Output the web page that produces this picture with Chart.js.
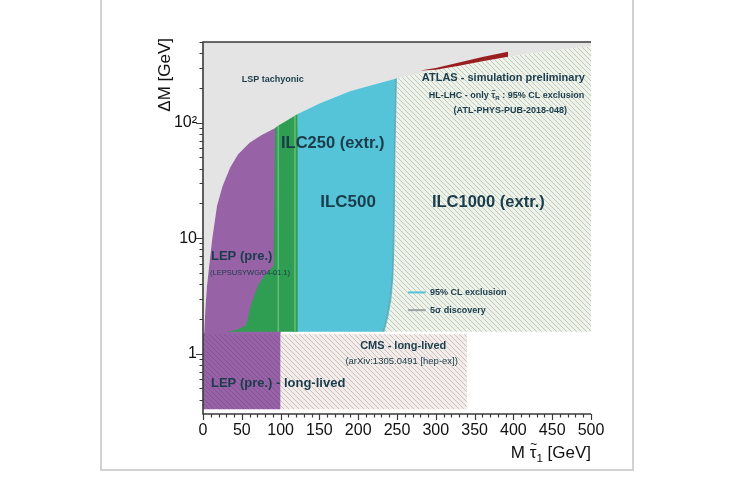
<!DOCTYPE html>
<html>
<head>
<meta charset="utf-8">
<title>Stau exclusion reach</title>
<script src="https://cdn.jsdelivr.net/npm/chart.js@4.4.1/dist/chart.umd.min.js"></script>
<style>
  html, body { margin: 0; padding: 0; background: #ffffff; }
  #c { display: block; }
</style>
</head>
<body>
<canvas id="c" width="734" height="490"></canvas>
<script>
// ---- axis ranges and tick labels ----
const massMin = 0, massMax = 500;          // M(stau) [GeV]
const gapMin = 0.33, gapMax = 500;         // Delta M [GeV], log axis
const massTicks = [0, 50, 100, 150, 200, 250, 300, 350, 400, 450, 500];
const gapTicks = [1, 10, 100];
const gapTickLabels = ['1', '10', '10\u00B2'];

// ---- upper kinematic edge (LSP massless); above it the LSP is tachyonic ----
const edgeMass = [0, 1.5, 3, 5, 8, 12, 18, 25, 35, 45, 60, 75, 93, 100, 122, 150, 190, 250, 300, 350, 393, 450, 500];
const edgeGap  = [1.5, 1.5, 2.4, 3.8, 5.8, 10, 19, 28, 41, 53, 67, 78, 90, 97, 119, 147, 188, 243, 287, 330, 372, 420, 462];

// ---- LEP (prelim.) reach ----
const lepReach = 100;

// ---- ILC250 (extrapolated): lower-left contour, then straight up to the edge ----
const ilc250LeftMass = [30, 45, 55, 58, 60, 63, 67, 72, 78, 85, 91, 92, 93];
const ilc250LeftGap  = [1.55, 1.62, 1.75, 2.0, 2.4, 2.8, 3.3, 4.0, 4.6, 5.2, 5.8, 20, 90];
const ilc250Reach = 122;
const ilcGapFloor = 1.55;

// ---- ILC500: right-hand contour ----
const ilc500EdgeMass = [234, 239, 243, 245.5, 247, 248, 250];
const ilc500EdgeGap  = [1.55, 2.1, 3.0, 4.6, 10, 50, 243];
// ILC500 5-sigma discovery contour
const ilc500DiscMass = [232, 237, 241, 243.8, 245.3, 246.4, 248.5];
const ilc500DiscGap  = [1.55, 2.1, 3.0, 4.6, 10, 50, 241];

// ---- ILC1000 (extrapolated) reach ----
const ilc1000Reach = 500;

// ---- CMS long-lived search ----
const cmsReach = 340;
const longLivedCeiling = 1.47;

// ---- ATLAS HL-LHC (stau_R only) 95% CL exclusion sliver ----
const atlasMass = [280, 300, 330, 360, 393, 393, 360, 330, 300];
const atlasGap  = [283, 298, 333, 370, 412, 372, 340, 312, 287];

// ---- colours ----
const cTachyonic = '#e3e4e3';
const cLep = '#9762a6';
const cIlc250 = '#2f9d52';
const cIlc500 = '#56c4d8';
const cAtlas = '#9a1d1f';
const cText = '#1a3c4b';

const canvas = document.getElementById('c');
const ctx = canvas.getContext('2d');

function hatch(bg, ink, step) {
  const t = document.createElement('canvas');
  t.width = step; t.height = step;
  const g = t.getContext('2d');
  if (bg) { g.fillStyle = bg; g.fillRect(0, 0, step, step); }
  g.strokeStyle = ink; g.lineWidth = 1;
  g.beginPath();
  for (const o of [-step, 0, step]) { g.moveTo(o, 0); g.lineTo(o + step, step); }
  g.stroke();
  return ctx.createPattern(t, 'repeat');
}

const pts = (xs, ys) => xs.map((x, i) => ({ x, y: ys[i] }));

function area(label, xs, ys, fillStyle, order) {
  return { label, data: pts(xs, ys), backgroundColor: fillStyle, borderColor: 'rgba(0,0,0,0)',
           borderWidth: 0, fill: 'shape', pointRadius: 0, tension: 0, order };
}
function curve(label, xs, ys, color, width, order) {
  return { label, data: pts(xs, ys), borderColor: color, borderWidth: width, backgroundColor: color,
           fill: false, pointRadius: 0, tension: 0, order };
}

// edge helper: edge points inside a mass window
function edgeBetween(lo, hi) {
  const xs = [], ys = [];
  edgeMass.forEach((m, i) => { if (m > lo && m < hi) { xs.push(m); ys.push(edgeGap[i]); } });
  return { xs, ys };
}

// tachyonic region: everything above the edge
const tachX = [0, ...edgeMass, massMax];
const tachY = [gapMax, ...edgeGap, gapMax];

// LEP: below the edge up to its reach
const lepEdge = edgeBetween(-1, lepReach + 0.01);
const lepX = [0, lepReach, ...lepEdge.xs.slice().reverse()];
const lepY = [gapMin, gapMin, ...lepEdge.ys.slice().reverse()];

// ILC250
const e250 = edgeBetween(ilc250LeftMass[ilc250LeftMass.length - 1], ilc250Reach + 0.01);
const ilc250X = [...ilc250LeftMass, ...e250.xs, ilc250Reach];
const ilc250Y = [...ilc250LeftGap, ...e250.ys, ilcGapFloor];

// ILC500
const e500 = edgeBetween(115, 250);
const ilc500X = [115, ...ilc500EdgeMass, ...e500.xs.slice().reverse()];
const ilc500Y = [ilcGapFloor, ...ilc500EdgeGap, ...e500.ys.slice().reverse()];

// ILC1000
const e1000 = edgeBetween(250, ilc1000Reach + 0.01);
const ilc1000X = [...ilc500EdgeMass, ...e1000.xs, ilc1000Reach];
const ilc1000Y = [...ilc500EdgeGap, ...e1000.ys, ilcGapFloor];

// ILC250 discovery contours (thin light lines inside the green band)
const ilc250DiscA = { xs: [97, 97], ys: [ilcGapFloor, 94] };
const ilc250DiscB = { xs: [118.5, 118.5], ys: [ilcGapFloor, 115] };

const datasets = [
  area('LSP tachyonic', tachX, tachY, cTachyonic, 20),
  area('LEP (pre.)', lepX, lepY, cLep, 19),
  area('LEP long-lived', [0, lepReach, lepReach, 0], [gapMin, gapMin, longLivedCeiling, longLivedCeiling],
       hatch(null, 'rgba(110,60,125,0.4)', 5), 18),
  area('CMS long-lived', [lepReach, cmsReach, cmsReach, lepReach], [gapMin, gapMin, longLivedCeiling, longLivedCeiling],
       hatch('#f2ecea', '#cdbfbc', 5), 17),
  area('ILC1000 (extr.)', ilc1000X, ilc1000Y, hatch('#eef2eb', '#bccab8', 5), 16),
  area('ILC500', ilc500X, ilc500Y, cIlc500, 15),
  curve('ILC500 5 sigma', ilc500DiscMass, ilc500DiscGap, 'rgba(130,150,150,0.8)', 1, 14),
  area('ILC250 (extr.)', ilc250X, ilc250Y, cIlc250, 13),
  curve('ILC250 5 sigma a', ilc250DiscA.xs, ilc250DiscA.ys, 'rgba(120,200,140,0.75)', 1.5, 12),
  curve('ILC250 5 sigma b', ilc250DiscB.xs, ilc250DiscB.ys, 'rgba(120,200,140,0.75)', 1.5, 11),
  area('ATLAS HL-LHC', atlasMass, atlasGap, cAtlas, 10)
];

// annotations placed in data coordinates (M, Delta M); "tilde" puts a ~ over that piece
const notes = [
  { parts: [{ t: 'LSP tachyonic' }], m: 50, g: 238, size: 9, bold: true },
  { parts: [{ t: 'ATLAS - simulation preliminary' }], m: 282, g: 245, size: 11, bold: true },
  { parts: [{ t: 'HL-LHC - only ' }, { t: '\u03C4', tilde: true }, { t: 'R', sub: true }, { t: ' : 95% CL exclusion' }], m: 291, g: 172, size: 9, bold: true },
  { parts: [{ t: '(ATL-PHYS-PUB-2018-048)' }], m: 396, g: 128, size: 9, bold: true, align: 'center' },
  { parts: [{ t: 'ILC250 (extr.)' }], m: 100.5, g: 66, size: 16.5, bold: true },
  { parts: [{ t: 'ILC500' }], m: 151, g: 20.5, size: 17, bold: true },
  { parts: [{ t: 'ILC1000 (extr.)' }], m: 295, g: 20.5, size: 16.5, bold: true },
  { parts: [{ t: 'LEP (pre.)' }], m: 10.3, g: 6.9, size: 13, bold: true },
  { parts: [{ t: '(LEPSUSYWG/04-01.1)' }], m: 9, g: 5.0, size: 7.5, bold: false },
  { parts: [{ t: '95% CL exclusion' }], m: 292.5, g: 3.39, size: 9, bold: true },
  { parts: [{ t: '5\u03C3 discovery' }], m: 292.5, g: 2.38, size: 9, bold: true },
  { parts: [{ t: 'CMS - long-lived' }], m: 258, g: 1.17, size: 11, bold: true, align: 'center' },
  { parts: [{ t: '(arXiv:1305.0491 [hep-ex])' }], m: 256, g: 0.854, size: 9.5, bold: false, align: 'center' },
  { parts: [{ t: 'LEP (pre.) - long-lived' }], m: 10.3, g: 0.554, size: 13, bold: true }
];
// legend swatches
const legendItems = [
  { m0: 264, m1: 287, g: 3.39, color: cIlc500 },
  { m0: 264, m1: 287, g: 2.38, color: '#98a3a2' }
];

const FAMILY = '"Liberation Sans", "DejaVu Sans", Arial, sans-serif';
function font(size, bold) { return (bold ? 'bold ' : '') + size + 'px ' + FAMILY; }

function drawRich(c, parts, x, y, size, bold, align, color) {
  c.save();
  c.fillStyle = color;
  c.textBaseline = 'middle';
  c.textAlign = 'left';
  const sz = p => (p.sub ? size * 0.68 : size);
  const widths = parts.map(p => { c.font = font(sz(p), bold); return c.measureText(p.t).width; });
  const total = widths.reduce((a, b) => a + b, 0);
  let cx = align === 'center' ? x - total / 2 : align === 'right' ? x - total : x;
  parts.forEach((p, i) => {
    c.font = font(sz(p), bold);
    const py = p.sub ? y + size * 0.32 : y;
    c.fillText(p.t, cx, py);
    if (p.tilde) {
      c.save();
      c.textAlign = 'center';
      c.font = font(size * 0.7, bold);
      c.fillText('~', cx + widths[i] / 2 + size * 0.04, py - size * 0.47);
      c.restore();
    }
    cx += widths[i];
  });
  c.restore();
}

const decor = {
  id: 'decor',
  beforeDraw(chart) {
    const c = chart.ctx;
    c.save();
    c.fillStyle = '#ffffff';
    c.fillRect(0, 0, chart.width, chart.height);
    c.strokeStyle = '#d2d2d2';
    c.lineWidth = 2;
    c.strokeRect(101, -2, 532, 472);
    c.restore();
  },
  afterDatasetsDraw(chart) {
    const c = chart.ctx;
    const xs = chart.scales.x, ys = chart.scales.y;
    notes.forEach(n => {
      drawRich(c, n.parts, xs.getPixelForValue(n.m), ys.getPixelForValue(n.g), n.size, n.bold, n.align || 'left', cText);
    });
    c.save();
    c.lineWidth = 2;
    legendItems.forEach(l => {
      c.strokeStyle = l.color;
      const y = ys.getPixelForValue(l.g);
      c.beginPath();
      c.moveTo(xs.getPixelForValue(l.m0), y);
      c.lineTo(xs.getPixelForValue(l.m1), y);
      c.stroke();
    });
    c.restore();
  },
  afterDraw(chart) {
    const c = chart.ctx;
    const a = chart.chartArea;
    const xs = chart.scales.x, ys = chart.scales.y;
    c.save();
    // frame: left axis, bottom axis and top edge
    c.strokeStyle = '#3a3a3a';
    c.lineWidth = 1.6;
    c.beginPath();
    c.moveTo(a.right, a.top);
    c.lineTo(a.left, a.top);
    c.lineTo(a.left, a.bottom);
    c.lineTo(a.right, a.bottom);
    c.stroke();
    // x ticks: major every 50, minor every 10, hanging below the axis
    c.lineWidth = 1.2;
    c.beginPath();
    for (let v = massMin; v <= massMax; v += 10) {
      const px = Math.round(xs.getPixelForValue(v)) + 0.5;
      const len = v % 50 === 0 ? 6 : 3.5;
      c.moveTo(px, a.bottom);
      c.lineTo(px, a.bottom + len);
    }
    // y ticks: decades long, 2..9 short, sticking out to the left
    for (let d = 0.1; d <= 1000; d *= 10) {
      for (let k = 1; k <= 9; k++) {
        const v = d * k;
        if (v < gapMin || v > gapMax) continue;
        const py = Math.round(ys.getPixelForValue(v)) + 0.5;
        const len = k === 1 ? 7 : 3.5;
        c.moveTo(a.left, py);
        c.lineTo(a.left - len, py);
      }
    }
    c.stroke();
    // axis titles
    c.fillStyle = '#111';
    c.font = font(17, false);
    c.textBaseline = 'middle';
    c.save();
    c.translate(165, 38);
    c.rotate(-Math.PI / 2);
    c.textAlign = 'right';
    c.fillText('\u0394M [GeV]', 0, 0);
    c.restore();
    drawRich(c, [{ t: 'M ' }, { t: '\u03C4', tilde: true }, { t: '1', sub: true }, { t: ' [GeV]' }], a.right, 453, 17, false, 'right', '#111');
    c.restore();
  }
};

new Chart(ctx, {
  type: 'line',
  data: { datasets },
  options: {
    responsive: false,
    animation: false,
    devicePixelRatio: 1,
    layout: { padding: { left: 143, right: 143, top: 42, bottom: 36 } },
    plugins: { legend: { display: false }, tooltip: { enabled: false } },
    elements: { line: { tension: 0 } },
    scales: {
      x: {
        type: 'linear', min: massMin, max: massMax,
        grid: { display: false, drawTicks: false },
        border: { display: false },
        afterBuildTicks: s => { s.ticks = massTicks.map(v => ({ value: v })); },
        afterFit: s => { s.height = 40; },
        ticks: { font: { family: FAMILY, size: 16 }, color: '#111', padding: 7, maxRotation: 0, autoSkip: false,
                 callback: v => String(v) }
      },
      y: {
        type: 'logarithmic', min: gapMin, max: gapMax,
        grid: { display: false, drawTicks: false },
        border: { display: false },
        afterBuildTicks: s => { s.ticks = gapTicks.map(v => ({ value: v })); },
        afterFit: s => { s.width = 60; },
        ticks: { font: { family: FAMILY, size: 16 }, color: '#111', padding: 6, autoSkip: false,
                 callback: (v, i) => gapTickLabels[i] }
      }
    }
  },
  plugins: [decor]
});
</script>
</body>
</html>
